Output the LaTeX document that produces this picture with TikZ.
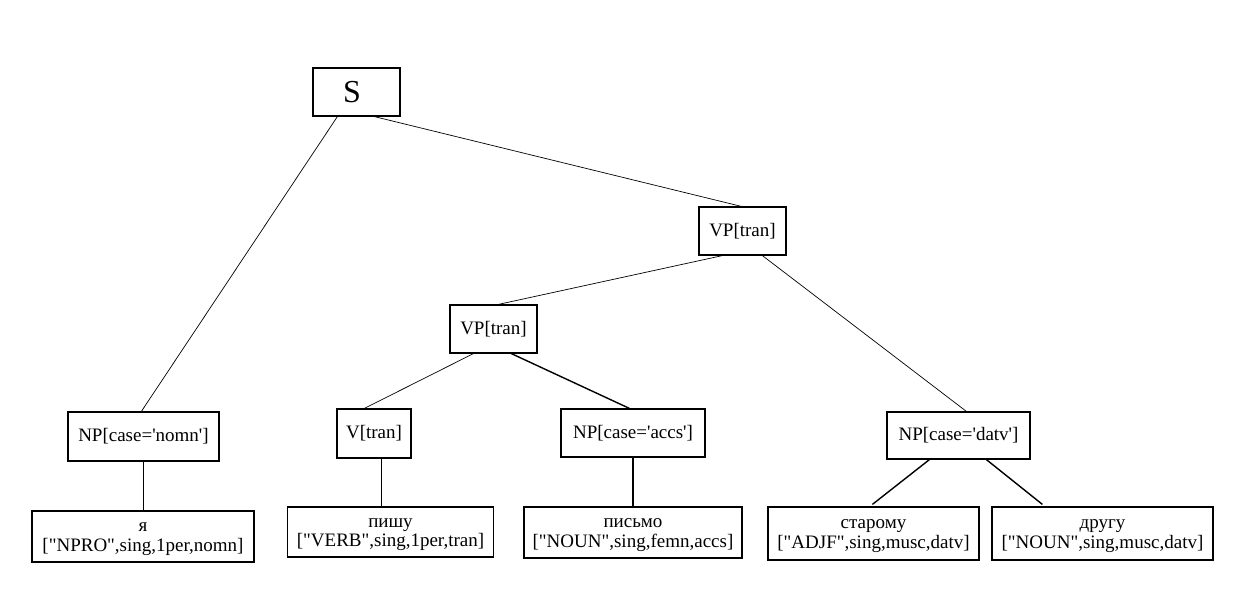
\documentclass[tikz,border=0pt]{standalone}
\usepackage{fontspec}
\setmainfont{Liberation Serif}
\tikzset{
  box/.style={draw=black, line width=1.2pt, rectangle, inner sep=0pt, align=center,
    font=\fontsize{19}{19.5}\selectfont},
  thin/.style={draw=black, line width=0.7pt},
  thick/.style={draw=black, line width=1.4pt},
}
\newcommand{\sq}{\textquotesingle}
\newcommand{\dq}{\textquotedbl}
\newcommand{\tl}{\vphantom{Иб}}
\begin{document}
\begin{tikzpicture}[x=1pt, y=-1pt]
\useasboundingbox (0,0) rectangle (1249,607);
\fill[white] (0,0) rectangle (1249,607);
% nodes
\node[box, minimum width=87pt, minimum height=48pt, font=\fontsize{32}{34}\selectfont] (S) at (356.5,92) {S\hspace*{9pt}};
\node[box, minimum width=87pt, minimum height=48pt] (VP1) at (742.5,231) {VP[tran]};
\node[box, minimum width=87pt, minimum height=48pt] (VP2) at (493.5,329) {VP[tran]};
\node[box, minimum width=151pt, minimum height=49pt] (NPn) at (143.5,436.5) {NP[case=\sq nomn\sq]};
\node[box, minimum width=74pt, minimum height=49pt] (V) at (374,433.5) {V[tran]};
\node[box, minimum width=144pt, minimum height=48pt] (NPa) at (633,433) {NP[case=\sq accs\sq]};
\node[box, minimum width=143pt, minimum height=47pt] (NPd) at (958.5,435.5) {NP[case=\sq datv\sq]};
\node[box, minimum width=222pt, minimum height=51pt] (L1) at (143,536.5) {\tl я\\{[}\dq NPRO\dq,sing,1per,nomn]};
\node[box, minimum width=206pt, minimum height=50pt] (L2) at (390.5,532) {\tl пишу\\{[}\dq VERB\dq,sing,1per,tran]};
\node[box, minimum width=218pt, minimum height=51pt] (L3) at (633,532.5) {\tl письмо\\{[}\dq NOUN\dq,sing,femn,accs]};
\node[box, minimum width=211pt, minimum height=53pt] (L4) at (873.5,533.5) {\tl старому\\{[}\dq ADJF\dq,sing,musc,datv]};
\node[box, minimum width=221pt, minimum height=53pt] (L5) at (1102.5,533.5) {\tl другу\\{[}\dq NOUN\dq,sing,musc,datv]};
% connectors
\draw[thin] ([xshift=25pt]S.south west) -- ([xshift=74pt]NPn.north west);
\draw[thin] ([xshift=62pt]S.south west) -- ([xshift=43pt]VP1.north west);
\draw[thin] ([xshift=24pt]VP1.south west) -- ([xshift=49pt]VP2.north west);
\draw[thin] ([xshift=64pt]VP1.south west) -- ([xshift=80pt]NPd.north west);
\draw[thin] ([xshift=24pt]VP2.south west) -- ([xshift=28pt]V.north west);
\draw[thick] ([xshift=62pt]VP2.south west) -- ([xshift=69pt]NPa.north west);
\draw[thick] (NPn.south) -- (L1.north -| NPn.south);
\draw[thick] ([xshift=45pt]V.south west) -- ([xshift=45pt]V.south west |- L2.north);
\draw[thick] (NPa.south) -- (L3.north);
\draw[thick] ([xshift=43pt]NPd.south west) -- ([xshift=105pt,yshift=2pt]L4.north west);
\draw[thick] ([xshift=100pt]NPd.south west) -- ([xshift=51pt,yshift=2pt]L5.north west);
\end{tikzpicture}
\end{document}
